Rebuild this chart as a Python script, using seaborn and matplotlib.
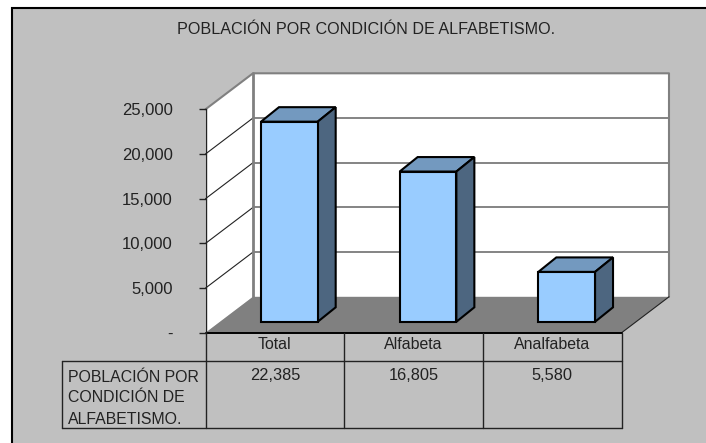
import matplotlib
matplotlib.use("Agg")
import matplotlib.pyplot as plt
import seaborn as sns
import pandas as pd
from matplotlib.patches import Polygon, Rectangle
from matplotlib.ticker import FuncFormatter
from matplotlib.transforms import Affine2D, IdentityTransform

TITLE = "POBLACIÓN POR CONDICIÓN DE ALFABETISMO."
ROW_LABEL = ["POBLACIÓN POR", "CONDICIÓN DE", "ALFABETISMO."]
categories = ["Total", "Alfabeta", "Analfabeta"]
values = [22385, 16805, 5580]
y_ticks = [0, 5000, 10000, 15000, 20000, 25000]

W, H = 706, 443
GREY = "#C0C0C0"
WALL = "#808080"
FRONT = "#99CCFF"
TOP = "#7399BF"
SIDE = "#4D6680"
INK = "#222222"
FS = 11.4

sns.set_theme(style="white")
plt.rcParams["font.family"] = ["Liberation Sans", "DejaVu Sans"]

fig = plt.figure(figsize=(W / 100, H / 100), dpi=100, facecolor="white")

# page overlay in image pixels, y pointing down
bg = fig.add_axes([0, 0, 1, 1], zorder=0)
bg.set_xlim(0, W)
bg.set_ylim(H, 0)
bg.axis("off")

X0, X1 = 205.5, 621.5
Y0, Y1 = 332.8, 109.3
DX, DY = 47.5, -36

bg.add_patch(Rectangle((11.5, 8), W, H, fc=GREY, ec="black", lw=1.5))

# walls and floor
bg.add_patch(Polygon([(X0, Y0), (X0, Y1), (X0 + DX, Y1 + DY), (X0 + DX, Y0 + DY)], fc="white", ec="none"))
bg.add_patch(Polygon([(X0 + DX, Y0 + DY), (X0 + DX, Y1 + DY), (X1 + DX, Y1 + DY), (X1 + DX, Y0 + DY)], fc="white", ec="none"))

for v in y_ticks[1:-1]:
    yy = Y0 + (Y1 - Y0) * v / y_ticks[-1]
    bg.plot([X0, X0 + DX], [yy, yy + DY], color=INK, lw=0.8)
    bg.plot([X0 + DX, X1 + DX], [yy + DY, yy + DY], color="#707070", lw=1.2)

bg.plot([X0, X0 + DX, X1 + DX, X1 + DX], [Y1, Y1 + DY, Y1 + DY, Y0 + DY], color=WALL, lw=1.5)
bg.plot([X0 + DX, X0 + DX], [Y1 + DY, Y0 + DY], color=WALL, lw=2)
bg.add_patch(Polygon([(X0, Y0), (X0 + DX, Y0 + DY), (X1 + DX, Y0 + DY), (X1, Y0)], fc=WALL, ec="none", zorder=3))
bg.plot([X1, X1 + DX], [Y0, Y0 + DY], color=INK, lw=0.8, zorder=4)

# data table under the chart
TB1, TB2, TL = 360.7, 428, 61.5
col_w = (X1 - X0) / len(categories)
line = dict(color=INK, lw=1, zorder=4)
bg.plot([X0, X1], [Y0, Y0], color="black", lw=1.4, zorder=4)
bg.plot([TL, X1], [TB1, TB1], **line)
bg.plot([TL, X1], [TB2, TB2], **line)
bg.plot([TL, TL], [TB1, TB2], **line)
for i in range(len(categories) + 1):
    xx = X0 + i * col_w
    bg.plot([xx, xx], [Y0, TB2], **line)

for i, v in enumerate(values):
    bg.text(X0 + (i + 0.5) * col_w, 375, f"{v:,}", ha="center", va="center", fontsize=FS + 0.4, color=INK)
for i, s in enumerate(ROW_LABEL):
    bg.text(68, 377 + i * 21, s, ha="left", va="center", fontsize=FS, color=INK)

bg.text(366.5, 29.5, TITLE, ha="center", va="center", fontsize=11.65, color=INK)

# the chart itself, same scale as the front of the box
ax = fig.add_axes([X0 / W, 1 - Y0 / H, (X1 - X0) / W, (Y0 - Y1) / H], zorder=1)
ax.patch.set_alpha(0)
df = pd.DataFrame({"categoria": categories, "valor": values})
sns.barplot(data=df, x="categoria", y="valor", color=FRONT, saturation=1, width=0.409, ax=ax)
ax.set_xlim(-0.5, 2.5)
ax.set_ylim(y_ticks[0], y_ticks[-1])
ax.set_xlabel("")
ax.set_ylabel("")
ax.set_yticks(y_ticks)
ax.yaxis.set_major_formatter(FuncFormatter(lambda v, p: "-" if v == 0 else f"{int(v):,}"))
ax.tick_params(axis="y", left=True, length=5, width=1, color=INK, pad=18.5, labelsize=12, labelcolor=INK)
ax.tick_params(axis="x", bottom=False, length=0, pad=3, labelsize=FS, labelcolor=INK)
for s in ["top", "right", "bottom"]:
    ax.spines[s].set_visible(False)
ax.spines["left"].set_color(INK)
ax.spines["left"].set_linewidth(1)

# bars stand a little back on the floor, shift them and add the 3d faces
shift = Affine2D().translate(14.5, 11)
BDX, BDY = 18, 14.5
renderer = fig.canvas.get_renderer()
for p in list(ax.patches):
    p.set_clip_on(False)
    p.set_edgecolor("black")
    p.set_linewidth(1.5)
    p.set_zorder(5)
    p.set_transform(ax.transData + shift)
    b = p.get_window_extent(renderer)
    l, r, low, up = b.x0, b.x1, b.y0, b.y1
    for pts, col in [
        ([(l, up), (r, up), (r + BDX, up + BDY), (l + BDX, up + BDY)], TOP),
        ([(r, low), (r, up), (r + BDX, up + BDY), (r + BDX, low + BDY)], SIDE),
    ]:
        ax.add_patch(Polygon(pts, closed=True, fc=col, ec="black", lw=1.5, transform=IdentityTransform(),
                             clip_on=False, zorder=4))

fig.savefig("out.png", dpi=100)
